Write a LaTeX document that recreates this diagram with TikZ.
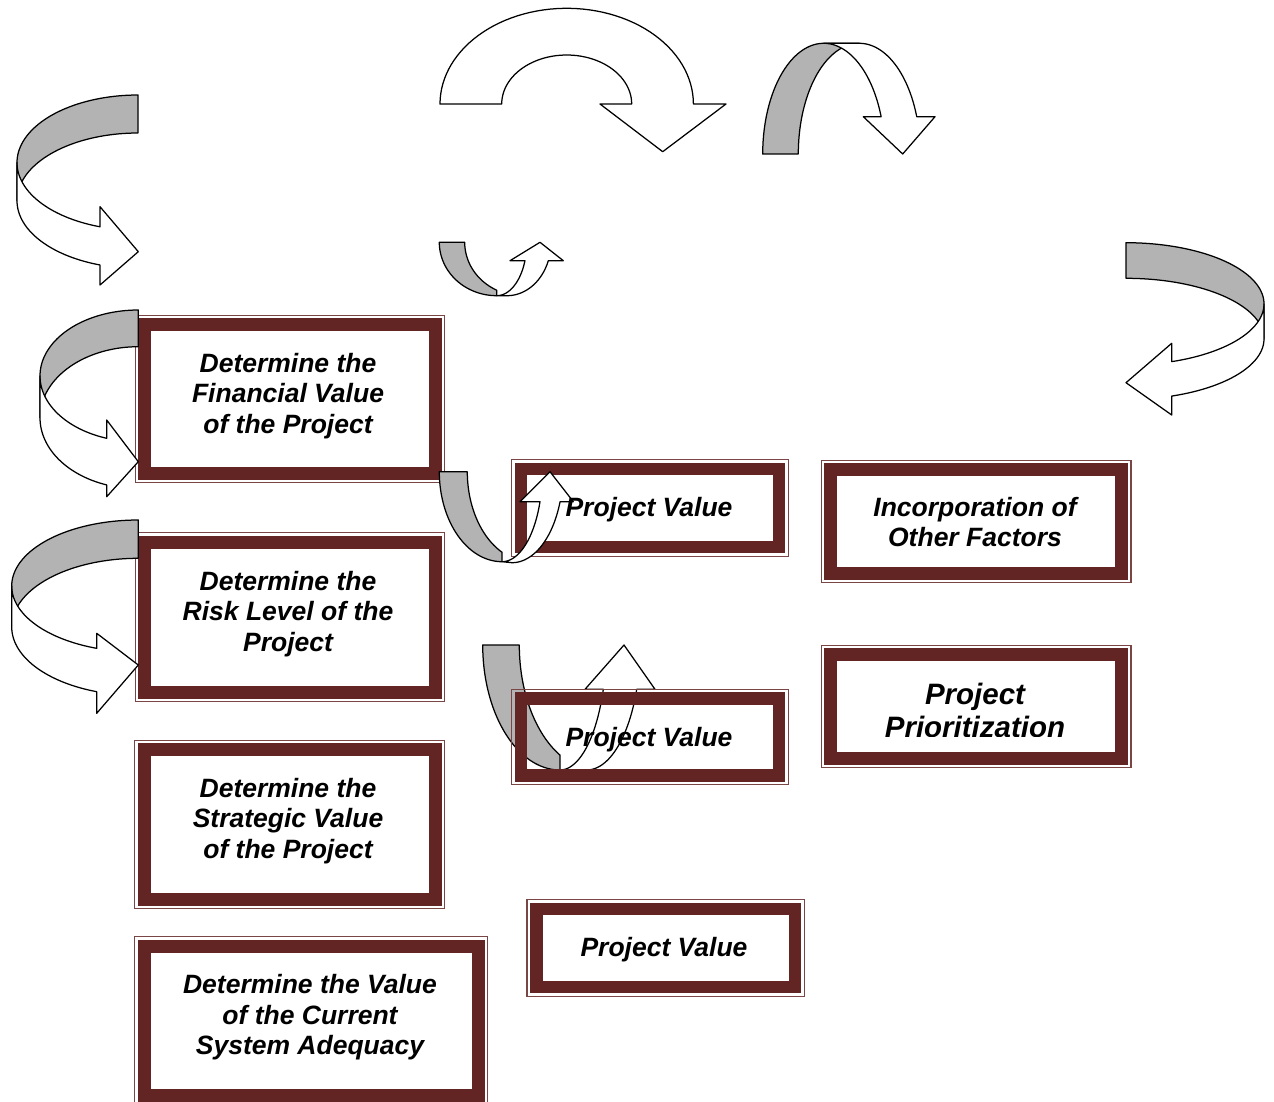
\documentclass[tikz,border=0pt]{standalone}
\usepackage{fontspec}
\setmainfont{Liberation Sans}
\definecolor{maroon}{RGB}{99,36,36}
\definecolor{ribgray}{RGB}{179,179,179}
\tikzset{
  band/.style={draw=maroon, line width=13pt, inner sep=0pt, outer sep=0pt},
  thinframe/.style={draw=maroon!85, line width=1.2pt},
  txt/.style={align=center, inner sep=0pt, font=\fontsize{26.5}{30.5}\selectfont\bfseries\itshape},
  bigtxt/.style={align=center, inner sep=0pt, font=\fontsize{29.5}{33}\selectfont\bfseries\itshape},
  rib/.style={draw=black, line width=1.25pt, line join=round},
  back/.style={rib, fill=ribgray},
  front/.style={rib, fill=white},
}
\newcommand\outerline[1]{\draw[thinframe] ([shift={(-9.3,-9.3)}]#1.north west) rectangle ([shift={(9.3,9.3)}]#1.south east);}
\begin{document}
\begin{tikzpicture}[x=1pt,y=-1pt]
\useasboundingbox (0,0) rectangle (1274,1102);

% ---------- framed boxes ----------
\node[band, minimum width=290.5pt, minimum height=149pt] (fin) at (289.75,399) {};
\outerline{fin}
\node[band, minimum width=290.5pt, minimum height=150pt] (risk) at (289.75,617) {};
\outerline{risk}
\node[band, minimum width=291pt, minimum height=149.5pt] (strat) at (289.5,824.25) {};
\outerline{strat}
\node[band, minimum width=334.3pt, minimum height=149.5pt] (cur) at (311.15,1020.75) {};
\outerline{cur}
\node[band, line width=12.5pt, minimum width=258pt, minimum height=78pt] (pva) at (650,508) {};
\outerline{pva}
\node[band, line width=12.5pt, minimum width=258.7pt, minimum height=78pt] (pvc) at (665.65,948) {};
\outerline{pvc}
\node[band, minimum width=291.2pt, minimum height=103.5pt] (inc) at (976.1,521.25) {};
\outerline{inc}
\node[band, minimum width=291.2pt, minimum height=103.5pt] (prio) at (976.1,706.25) {};
\outerline{prio}

% ---------- ribbon arrows ----------
% A: top-left, curving right
\path[back] plot[domain=-90:-180,samples=40] ({138+121*cos(\x)},{162.6+67.6*sin(\x)})
  -- plot[domain=-180:-90,samples=40] ({138+121*cos(\x)},{200.7+67.7*sin(\x)}) -- cycle;
\path[front] plot[domain=180:108.3,samples=40] ({138+121*cos(\x)},{162.6+67.6*sin(\x)})
  -- (100,206.7) -- (138.3,251.7) -- (100,285)
  -- plot[domain=108.3:180,samples=40] ({138+121*cos(\x)},{200.7+67.7*sin(\x)}) -- cycle;

% B: big white U-turn
\path[front] plot[domain=180:360,samples=60] ({566.7+126.7*cos(\x)},{104+95.7*sin(\x)})
  -- (726,104) -- (662.7,151.7) -- (600,104)
  -- plot[domain=360:180,samples=50] ({566.7+65*cos(\x)},{104+49*sin(\x)}) -- cycle;

% C: curving down
\path[back] plot[domain=180:270,samples=40] ({823.7+61*cos(\x)},{154+110.7*sin(\x)})
  -- plot[domain=270:180,samples=40] ({859.3+61*cos(\x)},{154+110.7*sin(\x)}) -- cycle;
\path[front] plot[domain=270:340.3,samples=40] ({823.7+61*cos(\x)},{154+110.7*sin(\x)})
  -- (863.3,116.7) -- (902.7,154) -- (935,116.7)
  -- plot[domain=340.3:270,samples=40] ({859.3+61*cos(\x)},{154+110.7*sin(\x)}) -- cycle;

% D: small, curving up
\path[back] plot[domain=180:90,samples=40] ({496.7+57.4*cos(\x)},{242.3+53.4*sin(\x)})
  -- plot[domain=116.26:180,samples=30] ({522.1+57.4*cos(\x)},{242.3+53.4*sin(\x)}) -- cycle;
\path[front] plot[domain=90:20.16,samples=30] ({496.7+30.1*cos(\x)},{242.3+53.4*sin(\x)})
  -- (510,260.7) -- (540,242.3) -- (563.3,260.7)
  -- plot[domain=20.16:90,samples=30] ({507+44*cos(\x)},{242.3+53.4*sin(\x)}) -- cycle;

% I: right side, curving left
\path[back] plot[domain=-90:0,samples=40] ({1126+138*cos(\x)},{303.9+61.2*sin(\x)})
  -- plot[domain=0:-90,samples=40] ({1126+138*cos(\x)},{338.9+60.6*sin(\x)}) -- cycle;
\path[front] plot[domain=0:70.66,samples=40] ({1126+138*cos(\x)},{303.9+61.2*sin(\x)})
  -- (1171.7,343.3) -- (1126,382.7) -- (1171.7,415)
  -- plot[domain=70.66:0,samples=40] ({1126+138*cos(\x)},{338.9+60.6*sin(\x)}) -- cycle;

% G: left of financial box
\path[back] plot[domain=-90:-180,samples=40] ({138.3+98.3*cos(\x)},{375.9+65.9*sin(\x)})
  -- plot[domain=-180:-90,samples=40] ({138.3+98.3*cos(\x)},{417.7+71*sin(\x)}) -- cycle;
\path[front] plot[domain=180:108.75,samples=40] ({138.3+98.3*cos(\x)},{375.9+65.9*sin(\x)})
  -- (106.7,420) -- (138.3,461.7) -- (106.7,496.7)
  -- plot[domain=108.75:180,samples=40] ({138.3+98.3*cos(\x)},{417.7+71*sin(\x)}) -- cycle;

% H: left of risk box
\path[back] plot[domain=-90:-180,samples=40] ({138.3+126.6*cos(\x)},{586+66*sin(\x)})
  -- plot[domain=-180:-90,samples=40] ({138.3+126.6*cos(\x)},{626.9+68.6*sin(\x)}) -- cycle;
\path[front] plot[domain=180:109.18,samples=40] ({138.3+126.6*cos(\x)},{586+66*sin(\x)})
  -- (96.7,633.3) -- (138.3,665) -- (96.7,713.3)
  -- plot[domain=109.18:180,samples=40] ({138.3+126.6*cos(\x)},{626.9+68.6*sin(\x)}) -- cycle;

% E: between financial box and first Project Value
\path[back] plot[domain=180:90,samples=40] ({502+62.7*cos(\x)},{471.7+90*sin(\x)})
  -- plot[domain=116.52:180,samples=30] ({530+62.7*cos(\x)},{471.7+90*sin(\x)}) -- cycle;
\path[front] plot[domain=90:19.47,samples=30] ({502+40.3*cos(\x)},{471.7+90*sin(\x)})
  -- (520,501.7) -- (550,471.7) -- (573.3,501.7)
  -- plot[domain=19.25:90,samples=30] ({512+50.9*cos(\x)},{471.7+91*sin(\x)}) -- cycle;

% F: under second Project Value
\path[back] plot[domain=180:90,samples=40] ({560+77.3*cos(\x)},{645+125*sin(\x)})
  -- plot[domain=118.26:180,samples=30] ({596.6+77.3*cos(\x)},{645+125*sin(\x)}) -- cycle;
\path[front] plot[domain=90:20.76,samples=30] ({560+46.3*cos(\x)},{645+125*sin(\x)})
  -- (585,689.3) -- (624,645) -- (655,689.3)
  -- plot[domain=20.76:90,samples=30] ({586.7+53.5*cos(\x)},{645+125*sin(\x)}) -- cycle;

\node[band, line width=12.5pt, minimum width=258pt, minimum height=77pt] (pvb) at (650,737) {};
\outerline{pvb}

% ---------- texts ----------
\node[txt] (finT) at (288,396) {Determine the\\Financial Value\\of the Project};
\node[txt] (riskT) at (288,614) {Determine the\\Risk Level of the\\Project};
\node[txt] (stratT) at (288,821) {Determine the\\Strategic Value\\of the Project};
\node[txt] (curT) at (310,1017.5) {Determine the Value\\of the Current\\System Adequacy};
\node[txt] (pvaT) at (649,509.5) {Project Value};
\node[txt] (pvbT) at (649,739.5) {Project Value};
\node[txt] (pvcT) at (664,949.5) {Project Value};
\node[txt] (incT) at (975,522) {Incorporation of\\Other Factors};
\begin{scope}
  \clip (840,664) rectangle (1112,736);
  \node[bigtxt] (prioT) at (975,710) {Project\\Prioritization};
\end{scope}
\end{tikzpicture}
\end{document}
